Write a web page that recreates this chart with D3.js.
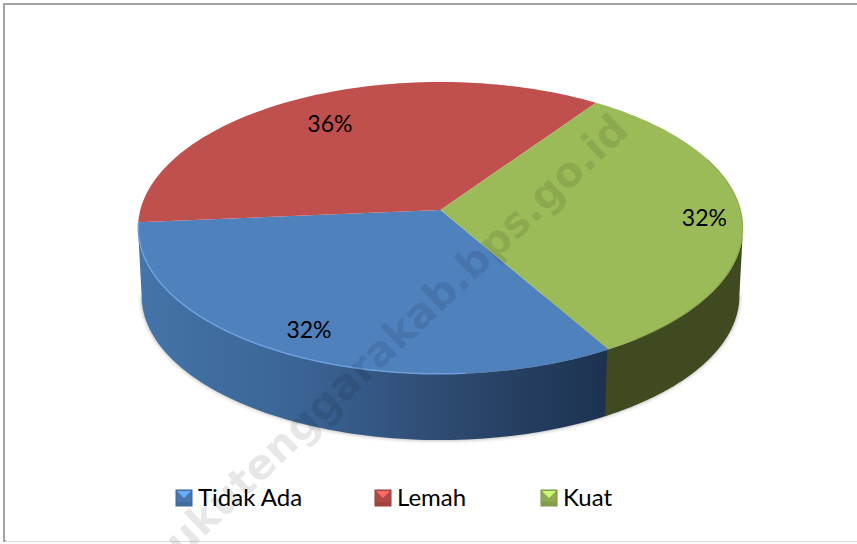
<!DOCTYPE html>
<html>
<head>
<meta charset="utf-8">
<script src="https://cdn.jsdelivr.net/npm/d3@7"></script>
<style>
html, body { margin: 0; padding: 0; background: #fff; }
svg { display: block; }
text { font-family: Lato, "Noto Sans", sans-serif; }
</style>
</head>
<body>
<div id="chart"></div>
<script>
const categories = ["Tidak Ada", "Lemah", "Kuat"];
const values = [32, 36, 32];
const labels = ["32%", "36%", "32%"];
const topColors = ["#4f81bd", "#c0504d", "#9bbb59"];
const watermark = "bukutenggarakab.bps.go.id";

const width = 857, height = 544;
const svg = d3.select("#chart").append("svg")
    .attr("width", width)
    .attr("height", height);
const defs = svg.append("defs");

// 3d look of the pie: a circle seen in perspective, the apex is not the middle of the ellipse
const rx = 300.2, ry = 143.8, persp = 0.1233;
const cx = 440.5, cyTop = 210, cyBottom = 278, shrink = 0.988;
const startAngle = 150 * Math.PI / 180;

const pie = d3.pie().sort(null).value(d => d)
    .startAngle(startAngle)
    .endAngle(startAngle + 2 * Math.PI);
const arcs = pie(values);

const xScale = d3.scaleLinear().domain([-1, 1]).range([cx - rx, cx + rx]);
function project(a, r, cy, s) {
    // angle is clockwise from top, like d3.pie
    const u = Math.sin(a) * r, v = -Math.cos(a) * r;
    const w = 1 - persp * v;
    return [cx + (xScale(u / w) - cx) * s, cy + ry * (v / w) * s];
}
const topRim = (a, r = 1) => project(a, r, cyTop, 1);
const bottomRim = a => project(a, 1, cyBottom, shrink);
const line = d3.line();
const rimAngles = (a0, a1) => d3.range(0, 81).map(i => a0 + (a1 - a0) * i / 80);

// gradient of the blue side
const sideStops = [[0, "#4474a8"], [0.35, "#3a6394"], [0.64, "#2e4b72"], [1, "#1c324f"]];
const grad = defs.append("linearGradient").attr("id", "blueSide")
    .attr("gradientUnits", "userSpaceOnUse")
    .attr("x1", xScale(-1)).attr("x2", topRim(arcs[0].startAngle)[0])
    .attr("y1", 0).attr("y2", 0);
grad.selectAll("stop").data(sideStops).join("stop")
    .attr("offset", d => d[0])
    .attr("stop-color", d => d[1]);
const blur = defs.append("filter").attr("id", "soft")
    .attr("x", "-10%").attr("y", "-10%").attr("width", "120%").attr("height", "120%");
blur.append("feGaussianBlur").attr("stdDeviation", 2.2);

// frame
svg.append("rect").attr("x", 4).attr("y", 4)
    .attr("width", width).attr("height", 537)
    .attr("fill", "#fff").attr("stroke", "#8c8c8c").attr("stroke-width", 1.6);
svg.append("rect").attr("x", 6).attr("y", 540)
    .attr("width", width).attr("height", 3)
    .attr("fill", "#fff");
svg.append("line").attr("x1", 5).attr("x2", width).attr("y1", 541.5).attr("y2", 541.5)
    .attr("stroke", "#dcdcdc").attr("stroke-width", 1);

// widest points of the ellipse, the walls start there
const leftSide = Math.PI * 1.5 - Math.asin(persp), rightSide = Math.PI * 0.5 + Math.asin(persp);

// shadow under the side wall
svg.append("path")
    .attr("d", line(rimAngles(rightSide, leftSide).map(bottomRim)) + "Z")
    .attr("fill", "#555")
    .attr("opacity", 0.55)
    .attr("filter", "url(#soft)");

// side walls, only the front ones can be seen
const walls = [
    { a0: arcs[0].startAngle, a1: leftSide, fill: "url(#blueSide)" },
    { a0: rightSide, a1: arcs[0].startAngle + 0.005, fill: "#404a21" }
];
svg.selectAll("path.wall").data(walls).join("path")
    .attr("class", "wall")
    .attr("fill", d => d.fill)
    .attr("d", d => line(rimAngles(d.a0, d.a1).map(a => topRim(a))
        .concat(rimAngles(d.a1, d.a0).map(bottomRim))) + "Z");

// top faces
svg.selectAll("path.slice").data(arcs).join("path")
    .attr("class", "slice")
    .attr("fill", (d, i) => topColors[i])
    .attr("d", d => line([topRim(0, 0)].concat(rimAngles(d.startAngle, d.endAngle).map(a => topRim(a)))) + "Z");

// lighter edge along the front of the blue slice, darker one on the green
svg.append("path")
    .attr("fill", "none")
    .attr("stroke", "#6f9fdc")
    .attr("stroke-width", 1.5)
    .attr("d", line(rimAngles(arcs[0].startAngle + 0.45, arcs[0].endAngle).map(a => topRim(a, 0.999))));
svg.append("path")
    .attr("fill", "none")
    .attr("stroke", "#74903f")
    .attr("stroke-width", 1.2)
    .attr("stroke-opacity", 0.45)
    .attr("d", line(rimAngles(rightSide - 0.5, arcs[0].startAngle - 0.1).map(a => topRim(a, 0.999))));

// data labels
const labelSpots = [[0.5, 0.857], [0.487, 0.757], [0.51, 0.875]];
const labelPos = (d, i) => topRim(d.startAngle + (d.endAngle - d.startAngle) * labelSpots[i][0], labelSpots[i][1]);
svg.selectAll("text.pct").data(arcs).join("text")
    .attr("class", "pct")
    .attr("text-anchor", "middle")
    .attr("font-size", 23)
    .attr("fill", "#000")
    .attr("x", (d, i) => labelPos(d, i)[0])
    .attr("y", (d, i) => labelPos(d, i)[1] + 8)
    .text((d, i) => labels[i]);

// legend
const legendX = d3.scaleOrdinal().domain(categories).range([176, 375, 541]);
const legend = svg.selectAll("g.legend").data(categories).join("g")
    .attr("class", "legend")
    .attr("transform", d => `translate(${legendX(d)},490)`);
legend.append("rect")
    .attr("width", 16).attr("height", 16)
    .attr("fill", (d, i) => d3.color(topColors[i]).darker(0.25))
    .attr("stroke", (d, i) => d3.color(topColors[i]).darker(0.7))
    .attr("stroke-width", 1);
legend.append("path")
    .attr("d", line([[1, 1], [15, 1], [11, 5], [8, 8], [5, 5]]) + "Z")
    .attr("fill", (d, i) => d3.color(topColors[i]).brighter(0.8));
legend.append("rect")
    .attr("x", 1).attr("y", 12).attr("width", 14).attr("height", 3)
    .attr("fill", (d, i) => d3.color(topColors[i]).darker(0.5));
legend.append("text")
    .attr("x", 22).attr("y", 15.5)
    .attr("font-size", 24)
    .attr("fill", "#000")
    .text(d => d);

// watermark
svg.append("text")
    .attr("transform", "translate(160,579) rotate(-43.5)")
    .style("font-family", "'DejaVu Sans', sans-serif")
    .attr("font-weight", "bold")
    .attr("font-size", 41.5)
    .attr("fill", "#000")
    .attr("fill-opacity", 0.1)
    .text(watermark);
</script>
</body>
</html>
